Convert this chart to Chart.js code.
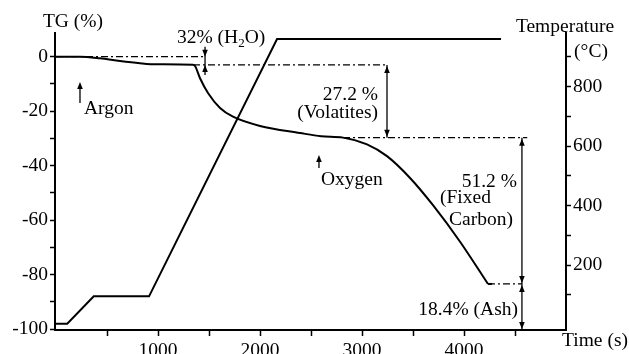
<!DOCTYPE html>
<html>
<head>
<meta charset="utf-8">
<script src="https://cdn.jsdelivr.net/npm/chart.js@4"></script>
<style>
  html, body { margin: 0; padding: 0; background: #fff; }
</style>
</head>
<body>
<canvas id="tg" width="629" height="354"></canvas>
<script>
// TG curve (mass, %) against time (s)
const timeS = [0, 235, 431, 627, 823, 990, 1343, 1363, 1412, 1490, 1608, 1735, 2000, 2392, 2600, 2814, 3049, 3245, 3471, 3696, 3963, 4235];
const tgPct = [0, 0, -0.6, -1.6, -2.4, -2.8, -2.95, -3.4, -7.9, -13.3, -18.8, -22.0, -25.4, -28.0, -29.2, -29.7, -32.2, -36.5, -44.5, -54.5, -68.0, -83.4];
// ash plateau after burn-out
const ashTime = [4235, 4275];
const ashPct = [-83.4, -83.4];

// furnace temperature programme
const tempTime = [0, 110, 370, 912, 2167, 4363];
const tempC = [3, 3, 95, 95, 960, 960];

// dash-dot reference levels
const refLevel = [0, -3, -29.7, -83.4];
const refFrom = [0, 1343, 2814, 4235];
const refTo = [1461, 3245, 4620, 4568];

// mass-loss steps
const stepAt = [1461, 3245, 4568, 4568];
const stepTop = [0, -3, -29.7, -83.4];
const stepBottom = [-3, -29.7, -83.4, -100.3];

// gas switch arrows
const gasAt = [235, 2578];
const gasTip = [-9.3, -36.1];
const gasTail = [-17, -40.8];

// ticks
const xTicks = [500, 1000, 1500, 2000, 2500, 3000, 3500, 4000, 4500];
const xLabels = [1000, 2000, 3000, 4000];
const tgTicks = [-100, -90, -80, -70, -60, -50, -40, -30, -20, -10, 0];
const tgLabels = [-100, -80, -60, -40, -20, 0];
const tempTicks = [100, 200, 300, 400, 500, 600, 700, 800, 900];
const tempLabels = [200, 400, 600, 800];

const FONT = '19.5px "Liberation Serif", "Times New Roman", serif';
const tickFont = { family: '"Liberation Serif", "Times New Roman", serif', size: 19.5 };

const pts = (xs, ys) => xs.map((x, i) => ({ x: x, y: ys[i] }));

const datasets = [
  {
    data: pts(timeS, tgPct), yAxisID: 'y', borderColor: '#000', borderWidth: 2,
    pointRadius: 0, cubicInterpolationMode: 'monotone'
  },
  {
    data: pts(ashTime, ashPct), yAxisID: 'y', borderColor: '#000', borderWidth: 2,
    pointRadius: 0
  },
  {
    data: pts(tempTime, tempC), yAxisID: 'y2', borderColor: '#000', borderWidth: 2,
    pointRadius: 0, tension: 0
  }
];
refLevel.forEach((lv, i) => {
  datasets.push({
    data: [{ x: refFrom[i], y: lv }, { x: refTo[i], y: lv }],
    yAxisID: 'y', borderColor: '#000', borderWidth: 1.3, borderDash: [7, 3, 2, 3],
    pointRadius: 0
  });
});

function head(ctx, x, y, dir) {
  // dir = -1 points up, 1 points down
  ctx.beginPath();
  ctx.moveTo(x, y);
  ctx.lineTo(x - 2.8, y - dir * 7);
  ctx.lineTo(x + 2.8, y - dir * 7);
  ctx.closePath();
  ctx.fill();
}

const notes = [
  { text: '27.2 %', t: 3157, v: -14.1, align: 'right' },
  { text: '(Volatites)', t: 3157, v: -20.7, align: 'right' },
  { text: 'Argon', t: 274, v: -19, align: 'left' },
  { text: 'Oxygen', t: 2598, v: -45.2, align: 'left' },
  { text: '51.2 %', t: 4519, v: -46.0, align: 'right' },
  { text: '(Fixed', t: 3765, v: -51.9, align: 'left' },
  { text: 'Carbon)', t: 4480, v: -60.0, align: 'right' },
  { text: '18.4% (Ash)', t: 4529, v: -93.0, align: 'right' }
];

const annot = {
  id: 'annot',
  afterDatasetsDraw(chart) {
    const ctx = chart.ctx;
    const xs = chart.scales.x, ys = chart.scales.y;
    const area = chart.chartArea;
    ctx.save();
    ctx.strokeStyle = '#000';
    ctx.fillStyle = '#000';
    ctx.lineWidth = 1.3;

    // step arrows
    stepAt.forEach((t, i) => {
      const x = xs.getPixelForValue(t);
      const y1 = ys.getPixelForValue(stepTop[i]);
      const y2 = ys.getPixelForValue(stepBottom[i]);
      ctx.beginPath();
      if (i === 0) {
        ctx.moveTo(x, y1 - 10); ctx.lineTo(x, y2 + 10); ctx.stroke();
        head(ctx, x, y1, 1);
        head(ctx, x, y2, -1);
      } else {
        ctx.moveTo(x, y1); ctx.lineTo(x, y2); ctx.stroke();
        head(ctx, x, y1 + 1, -1);
        head(ctx, x, y2 - 1, 1);
      }
    });

    // gas arrows
    gasAt.forEach((t, i) => {
      const x = xs.getPixelForValue(t);
      const yt = ys.getPixelForValue(gasTip[i]);
      const yb = ys.getPixelForValue(gasTail[i]);
      ctx.beginPath(); ctx.moveTo(x, yt + 3); ctx.lineTo(x, yb); ctx.stroke();
      head(ctx, x, yt, -1);
    });

    ctx.font = FONT;
    ctx.textBaseline = 'middle';
    notes.forEach(n => {
      ctx.textAlign = n.align;
      ctx.fillText(n.text, xs.getPixelForValue(n.t), ys.getPixelForValue(n.v));
    });

    // 3.2% (H2O) with subscript
    let hx = xs.getPixelForValue(1186);
    const hy = ys.getPixelForValue(6.9);
    ctx.textAlign = 'left';
    const a = '32% (H';
    ctx.fillText(a, hx, hy);
    hx += ctx.measureText(a).width;
    ctx.font = '13px "Liberation Serif", serif';
    ctx.fillText('2', hx, hy + 6);
    hx += ctx.measureText('2').width;
    ctx.font = FONT;
    ctx.fillText('O)', hx, hy);

    // axis titles
    ctx.textAlign = 'center';
    ctx.fillText('TG (%)', area.left + 18, area.top - 11);
    ctx.fillText('Temperature', area.right - 1, area.top - 6);
    ctx.fillText('(\u00B0C)', area.right + 25, area.top + 19);
    ctx.fillText('Time (s)', area.right + 29, area.bottom + 11);
    ctx.restore();
  }
};

const tickSetter = vals => scale => { scale.ticks = vals.map(v => ({ value: v })); };

new Chart(document.getElementById('tg'), {
  type: 'line',
  data: { datasets: datasets },
  options: {
    responsive: false,
    animation: false,
    layout: { padding: { top: 33, left: 0, right: 0, bottom: 0 } },
    plugins: { legend: { display: false }, tooltip: { enabled: false } },
    scales: {
      x: {
        type: 'linear', min: -10, max: 5000,
        afterBuildTicks: tickSetter(xTicks),
        afterFit: s => { s.height = 24; },
        border: { color: '#000', width: 2 },
        grid: { drawOnChartArea: false, tickLength: 6, tickColor: '#000', tickWidth: 1.5 },
        ticks: {
          color: '#000', font: tickFont, padding: 3, maxRotation: 0, autoSkip: false,
          callback: v => xLabels.includes(v) ? String(v) : ''
        }
      },
      y: {
        type: 'linear', position: 'left', min: -100.3, max: 8.7,
        afterBuildTicks: tickSetter(tgTicks),
        afterFit: s => { s.width = 55; },
        border: { color: '#000', width: 2 },
        grid: { drawOnChartArea: false, tickLength: 5, tickColor: '#000', tickWidth: 1.5 },
        ticks: {
          color: '#000', font: tickFont, padding: 2, autoSkip: false,
          callback: v => tgLabels.includes(v) ? String(v) : ''
        }
      },
      y2: {
        type: 'linear', position: 'right', min: -18, max: 980,
        afterBuildTicks: tickSetter(tempTicks),
        afterFit: s => { s.width = 63; },
        border: { color: '#000', width: 2 },
        grid: { drawOnChartArea: false, tickLength: 5, tickColor: '#000', tickWidth: 1.5 },
        ticks: {
          color: '#000', font: tickFont, padding: 2, autoSkip: false,
          callback: v => tempLabels.includes(v) ? String(v) : ''
        }
      }
    }
  },
  plugins: [annot]
});
</script>
</body>
</html>
